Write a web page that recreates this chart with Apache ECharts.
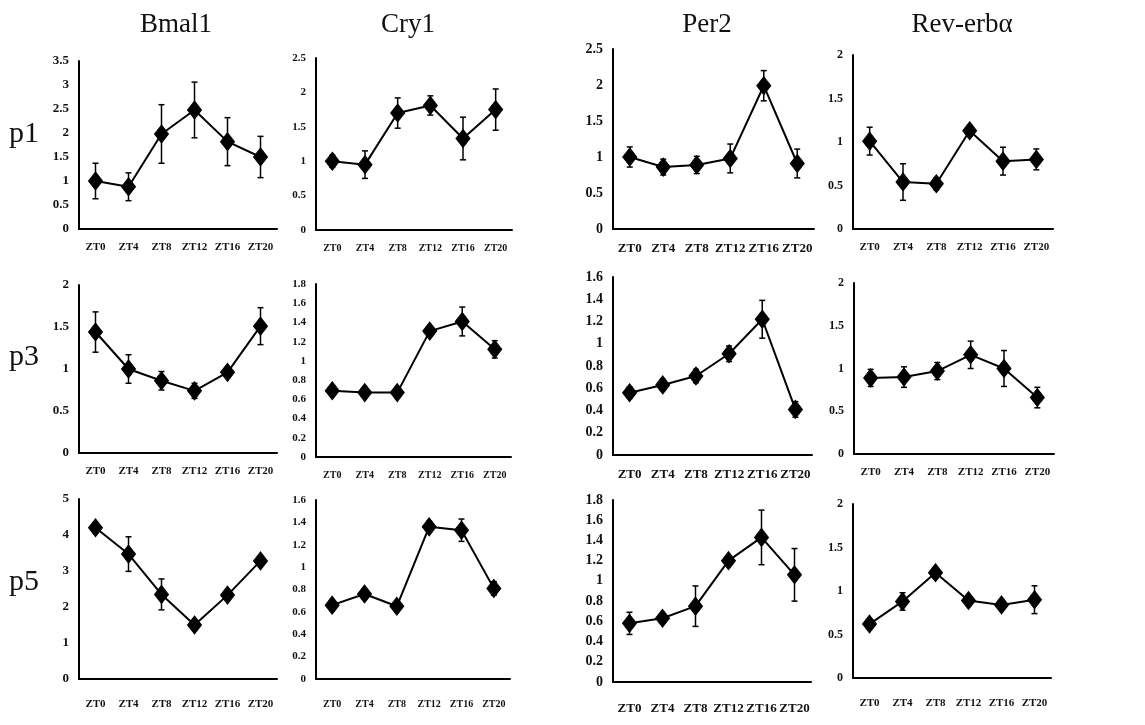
<!DOCTYPE html>
<html>
<head>
<meta charset="utf-8">
<title>Clock genes</title>
<script src="https://cdn.jsdelivr.net/npm/echarts@6/dist/echarts.min.js"></script>
<style>
	html, body { margin: 0; padding: 0; background: #ffffff; }
	#chart { width: 1145px; height: 725px; }
</style>
</head>
<body>
<div id="chart"></div>
<script>
//时间点
var ztLabels = ["ZT0", "ZT4", "ZT8", "ZT12", "ZT16", "ZT20"];
var geneNames = ["Bmal1", "Cry1", "Per2", "Rev-erbα"];
var rowNames = ["p1", "p3", "p5"];

//p1 均值 / 误差
var bmal1P1 = [1.0, 0.88, 1.98, 2.48, 1.82, 1.5];
var bmal1P1Err = [0.37, 0.29, 0.61, 0.58, 0.5, 0.43];
var cry1P1 = [1.0, 0.95, 1.7, 1.81, 1.33, 1.75];
var cry1P1Err = [0.09, 0.2, 0.22, 0.14, 0.31, 0.3];
var per2P1 = [1.0, 0.86, 0.89, 0.98, 1.99, 0.91];
var per2P1Err = [0.14, 0.11, 0.12, 0.2, 0.21, 0.2];
var revP1 = [1.01, 0.54, 0.52, 1.13, 0.78, 0.8];
var revP1Err = [0.16, 0.21, 0.07, 0.06, 0.16, 0.12];

//p3
var bmal1P3 = [1.44, 1.0, 0.86, 0.74, 0.96, 1.51];
var bmal1P3Err = [0.24, 0.17, 0.11, 0.09, 0.06, 0.22];
var cry1P3 = [0.69, 0.67, 0.67, 1.31, 1.41, 1.12];
var cry1P3Err = [0.05, 0.05, 0.05, 0.05, 0.15, 0.09];
var per2P3 = [0.56, 0.63, 0.71, 0.91, 1.22, 0.41];
var per2P3Err = [0.05, 0.05, 0.06, 0.07, 0.17, 0.07];
var revP3 = [0.89, 0.9, 0.97, 1.16, 1.0, 0.66];
var revP3Err = [0.1, 0.12, 0.1, 0.16, 0.21, 0.12];

//p5
var bmal1P5 = [4.2, 3.47, 2.35, 1.5, 2.33, 3.28];
var bmal1P5Err = [0.13, 0.48, 0.43, 0.08, 0.1, 0.1];
var cry1P5 = [0.66, 0.76, 0.65, 1.36, 1.33, 0.81];
var cry1P5Err = [0.04, 0.04, 0.03, 0.05, 0.1, 0.06];
var per2P5 = [0.58, 0.63, 0.75, 1.2, 1.43, 1.06];
var per2P5Err = [0.11, 0.04, 0.2, 0.04, 0.27, 0.26];
var revP5 = [0.62, 0.88, 1.21, 0.89, 0.84, 0.9];
var revP5Err = [0.05, 0.1, 0.06, 0.05, 0.04, 0.16];

//y轴刻度 [max, interval]
var yScaleP1 = [[3.5, 0.5], [2.5, 0.5], [2.5, 0.5], [2, 0.5]];
var yScaleP3 = [[2, 0.5], [1.8, 0.2], [1.6, 0.2], [2, 0.5]];
var yScaleP5 = [[5, 1], [1.6, 0.2], [1.8, 0.2], [2, 0.5]];

var panelData = [
	[[bmal1P1, bmal1P1Err], [cry1P1, cry1P1Err], [per2P1, per2P1Err], [revP1, revP1Err]],
	[[bmal1P3, bmal1P3Err], [cry1P3, cry1P3Err], [per2P3, per2P3Err], [revP3, revP3Err]],
	[[bmal1P5, bmal1P5Err], [cry1P5, cry1P5Err], [per2P5, per2P5Err], [revP5, revP5Err]]
];
var panelScale = [yScaleP1, yScaleP3, yScaleP5];

//各子图位置 [left, top, width, height]
var gridBoxes = [
	[[79, 61, 198, 168], [316, 58, 196, 172], [613, 49, 201, 180], [853, 55, 200, 174]],
	[[79, 285, 198, 168], [316, 284, 195, 173], [613, 277, 199, 178], [854, 283, 200, 171]],
	[[79, 499, 198, 180], [316, 500, 194, 179], [613, 500, 198, 182], [853, 504, 198, 174]]
];
//各列刻度字号
var yFontSize = [13, 11, 14, 12];
var xFontSize = [11, 10, 13, 11];
var xLabelMargin = [13, 13, 20];

var serif = "'Liberation Serif', 'DejaVu Serif', serif";

//误差线
function renderErrorBar(params, api) {
	var x = api.value(0);
	var top = api.coord([x, api.value(2)]);
	var bottom = api.coord([x, api.value(1)]);
	var cap = 3;
	var style = { stroke: "#000", lineWidth: 1.5 };
	return {
		type: "group",
		children: [
			{ type: "line", shape: { x1: top[0], y1: top[1], x2: bottom[0], y2: bottom[1] }, style: style },
			{ type: "line", shape: { x1: top[0] - cap, y1: top[1], x2: top[0] + cap, y2: top[1] }, style: style },
			{ type: "line", shape: { x1: bottom[0] - cap, y1: bottom[1], x2: bottom[0] + cap, y2: bottom[1] }, style: style }
		]
	};
}

function buildOption() {
	var grids = [], xAxes = [], yAxes = [], series = [], titles = [];
	var titleX = [171, 403, 702, 957];
	var rowY = [132, 355, 580];

	for (var c = 0; c < geneNames.length; c++) {
		titles.push({
			text: geneNames[c],
			left: titleX[c],
			top: 6,
			textAlign: "center",
			textStyle: { fontFamily: serif, fontSize: 27, fontWeight: "normal", color: "#111" }
		});
	}
	for (var r = 0; r < rowNames.length; r++) {
		titles.push({
			text: rowNames[r],
			left: 4,
			top: rowY[r] - 18,
			textStyle: { fontFamily: serif, fontSize: 30, fontWeight: "normal", color: "#111" }
		});
	}

	var idx = 0;
	for (var r = 0; r < 3; r++) {
		for (var c = 0; c < 4; c++) {
			var box = gridBoxes[r][c];
			var mean = panelData[r][c][0];
			var err = panelData[r][c][1];
			grids.push({ left: box[0], top: box[1], width: box[2], height: box[3] });
			xAxes.push({
				type: "category",
				gridIndex: idx,
				data: ztLabels,
				boundaryGap: true,
				axisLine: { lineStyle: { color: "#000", width: 2 } },
				axisTick: { inside: true, length: 5, lineStyle: { color: "#000", width: 1.5 } },
				axisLabel: {
					interval: 0,
					hideOverlap: false,
					color: "#111",
					fontFamily: serif,
					fontWeight: "bold",
					fontSize: xFontSize[c],
					margin: xLabelMargin[r]
				}
			});
			yAxes.push({
				type: "value",
				gridIndex: idx,
				min: 0,
				max: panelScale[r][c][0],
				interval: panelScale[r][c][1],
				splitLine: { show: false },
				axisLine: { show: true, lineStyle: { color: "#000", width: 2 } },
				axisTick: { show: false },
				axisLabel: {
					color: "#111",
					fontFamily: serif,
					fontWeight: "bold",
					fontSize: yFontSize[c],
					margin: 10
				}
			});
			var errData = [];
			for (var i = 0; i < mean.length; i++) {
				errData.push([i, mean[i] - err[i], mean[i] + err[i]]);
			}
			series.push({
				type: "custom",
				xAxisIndex: idx,
				yAxisIndex: idx,
				renderItem: renderErrorBar,
				data: errData,
				z: 1,
				silent: true
			});
			series.push({
				type: "line",
				xAxisIndex: idx,
				yAxisIndex: idx,
				data: mean,
				symbol: "diamond",
				symbolSize: [14, 18],
				showAllSymbol: true,
				clip: false,
				silent: true,
				emphasis: { disabled: true },
				itemStyle: { color: "#000", borderColor: "#000", opacity: 1 },
				lineStyle: { color: "#000", width: 2 },
				z: 3
			});
			idx++;
		}
	}

	return {
		backgroundColor: "#ffffff",
		animation: false,
		title: titles,
		grid: grids,
		xAxis: xAxes,
		yAxis: yAxes,
		series: series
	};
}

var myChart = echarts.init(document.getElementById("chart"));
myChart.setOption(buildOption());
</script>
</body>
</html>
